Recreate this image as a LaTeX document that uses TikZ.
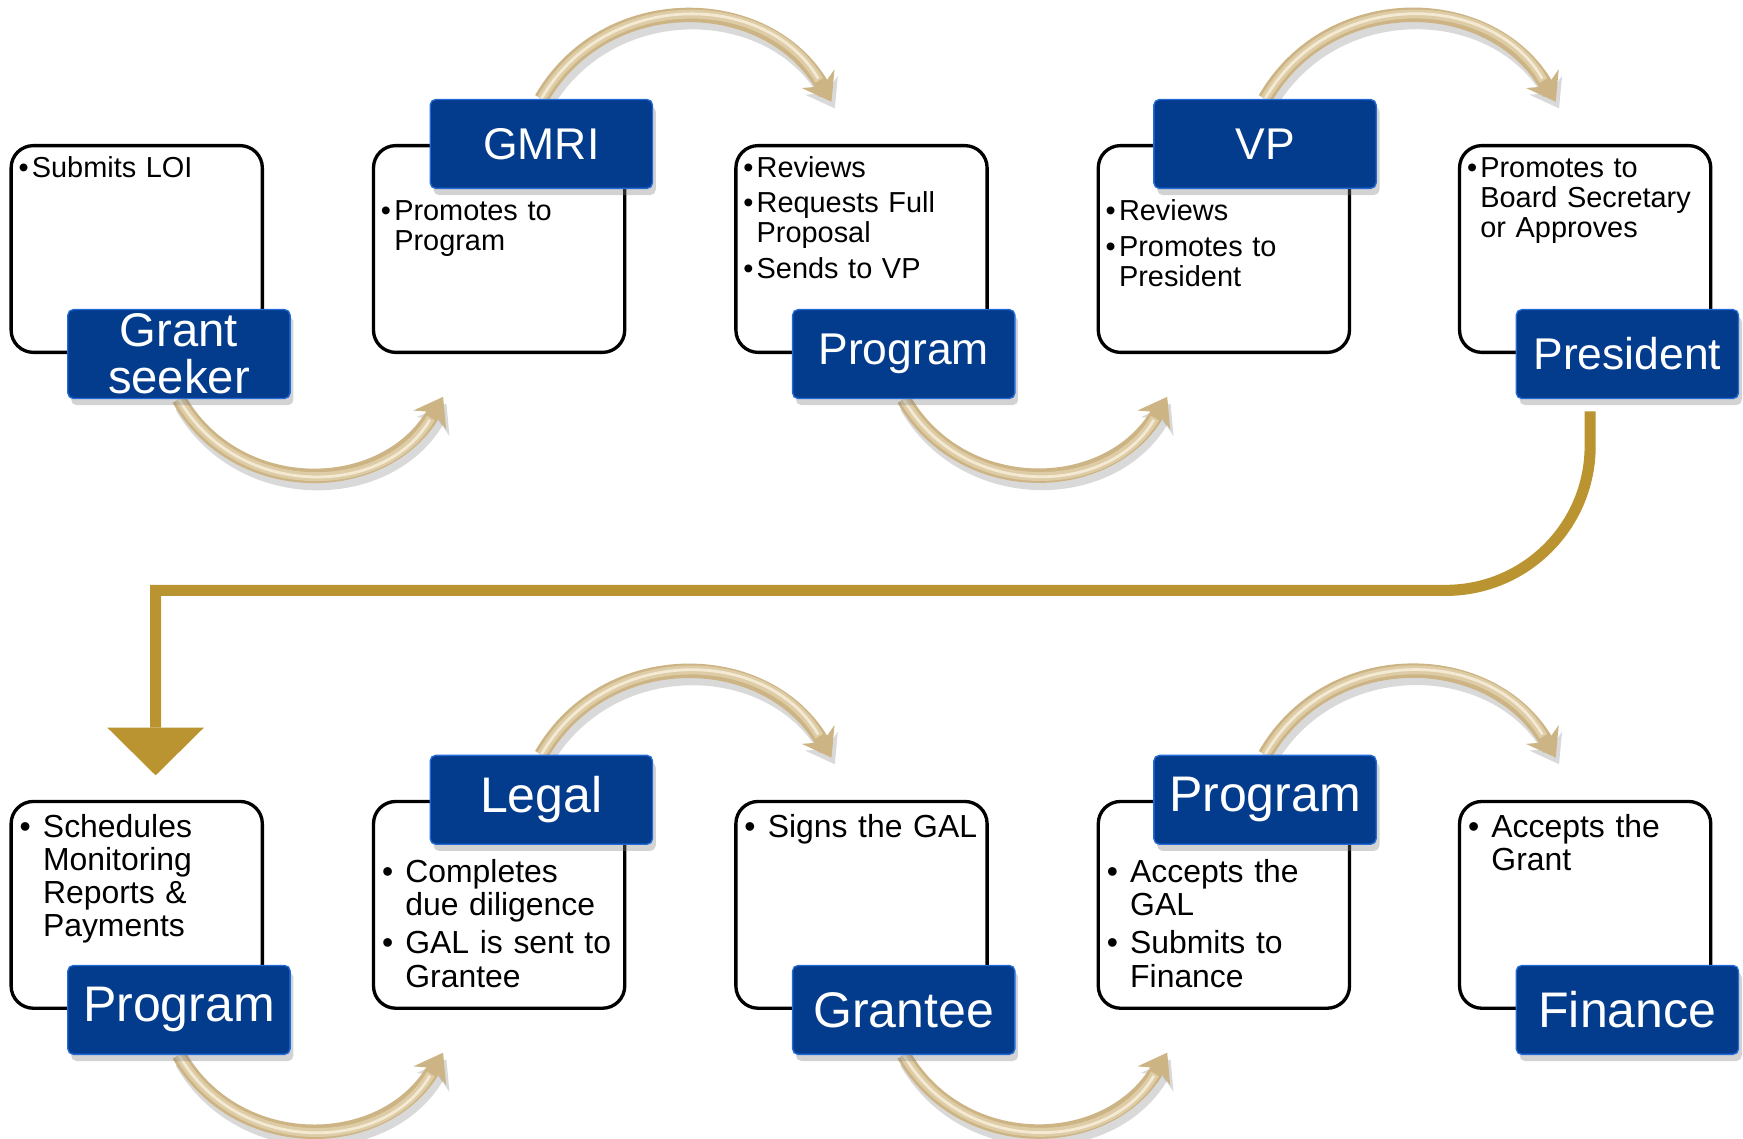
\documentclass[tikz,border=0pt]{standalone}
\usepackage{fontspec}
\setmainfont{Liberation Sans}
\usetikzlibrary{arrows.meta,shadows}
\pgfdeclarelayer{bg}
\pgfsetlayers{bg,main}
\definecolor{lblue}{RGB}{3,60,140}
\definecolor{lbluee}{RGB}{35,105,215}
\definecolor{goldc}{RGB}{185,148,48}
\definecolor{tanc}{RGB}{204,180,132}
\definecolor{tanmid}{RGB}{222,204,166}
\definecolor{tanhi}{RGB}{244,234,212}
\newcommand\tbul{\makebox[12pt][l]{•}}
\newcommand\tind{\hspace*{12pt}}
\newcommand\bbul{\makebox[21pt][l]{•}}
\newcommand\bind{\hspace*{21pt}}
\newcommand\tubearc[4]{%
  \draw[tubeshadow] (#1) to[out=#3,in=#4,looseness=1.13] (#2);
  \draw[tubebody] (#1) to[out=#3,in=#4,looseness=1.13] (#2);
  \draw[tubemid] (#1) to[out=#3,in=#4,looseness=1.13] (#2);
  \draw[tubehi] (#1) to[out=#3,in=#4,looseness=1.13] (#2);
}
\begin{document}
\begin{tikzpicture}[x=1pt,y=1pt,
  wbox/.style={draw=black, line width=3pt, rounded corners=20pt, fill=white,
    minimum width=226pt, minimum height=186pt, inner sep=0pt},
  lbl/.style={fill=lblue, draw=lbluee, line width=1.2pt, rounded corners=5pt,
    minimum width=200pt, minimum height=80pt, inner sep=0pt, text=white, align=center,
    font=\fontsize{40}{42}\selectfont,
    drop shadow={shadow xshift=3pt, shadow yshift=-6pt, opacity=0.35}},
  lblb/.style={lbl, font=\fontsize{45}{47}\selectfont},
  txt/.style={anchor=base west, inner sep=0pt, text width=215pt, align=left,
    font=\fontsize{26}{27}\selectfont},
  txtb/.style={txt, font=\fontsize{28.7}{29.8}\selectfont},
  tubeshadow/.style={draw=black, opacity=0.15, line width=14pt,
    transform canvas={shift={(3pt,-6pt)}},
    -{Stealth[length=24pt,width=34pt,inset=8pt,line width=0pt]}},
  tubebody/.style={draw=tanc, line width=13pt,
    -{Stealth[length=24pt,width=34pt,inset=8pt,line width=0pt]}},
  tubemid/.style={draw=tanmid, line width=8pt, shorten >=22pt},
  tubehi/.style={draw=tanhi, line width=2.5pt, shorten >=24pt},
  goldline/.style={draw=goldc, line width=10pt,
    -{Triangle[width=87pt,length=43pt,line width=0pt]}}
]
\useasboundingbox (0,0) rectangle (1568,-1024);

% ---- upper row boxes
\node[wbox] (b1) at (123,-224) {};
\node[wbox] (b2) at (449,-224) {};
\node[wbox] (b3) at (775,-224) {};
\node[wbox] (b4) at (1101,-224) {};
\node[wbox] (b5) at (1426,-224) {};
% ---- lower row boxes
\node[wbox] (b6) at (123,-814) {};
\node[wbox] (b7) at (449,-814) {};
\node[wbox] (b8) at (775,-814) {};
\node[wbox] (b9) at (1101,-814) {};
\node[wbox] (b10) at (1426,-814) {};

% ---- texts
\node[txt] (t1) at ([shift={(8pt,-30pt)}]b1.north west) {\tbul Submits LOI};
\node[txt] (t2) at ([shift={(8pt,-69pt)}]b2.north west) {\tbul Promotes to\\ \tind Program};
\node[txt] (t3) at ([shift={(8pt,-30pt)}]b3.north west) {\tbul Reviews\\[5pt] \tbul Requests Full\\ \tind Proposal\\[5pt] \tbul Sends to VP};
\node[txt] (t4) at ([shift={(8pt,-69pt)}]b4.north west) {\tbul Reviews\\[5pt] \tbul Promotes to\\ \tind President};
\node[txt] (t5) at ([shift={(8pt,-30pt)}]b5.north west) {\tbul Promotes to\\ \tind Board Secretary\\ \tind or Approves};

\node[txtb] (t6) at ([shift={(9pt,-34pt)}]b6.north west) {\bbul Schedules\\ \bind Monitoring\\ \bind Reports \&\\ \bind Payments};
\node[txtb] (t7) at ([shift={(9pt,-74pt)}]b7.north west) {\bbul Completes\\ \bind due diligence\\[5pt] \bbul GAL is sent to\\ \bind Grantee};
\node[txtb] (t8) at ([shift={(9pt,-34pt)}]b8.north west) {\bbul Signs the GAL};
\node[txtb] (t9) at ([shift={(9pt,-74pt)}]b9.north west) {\bbul Accepts the\\ \bind GAL\\[5pt] \bbul Submits to\\ \bind Finance};
\node[txtb] (t10) at ([shift={(9pt,-34pt)}]b10.north west) {\bbul Accepts the\\ \bind Grant};

% ---- labels
\node[lbl, font=\fontsize{42.5}{42}\selectfont] (l1) at ([xshift=38pt]b1.south) {Grant\\seeker};
\node[lbl] (l2) at ([xshift=38pt]b2.north) {GMRI};
\node[lbl] (l3) at ([xshift=38pt]b3.south) {Program};
\node[lbl] (l4) at ([xshift=37pt]b4.north) {VP};
\node[lbl] (l5) at ([xshift=38pt]b5.south) {President};
\node[lblb] (l6) at ([xshift=38pt]b6.south) {Program};
\node[lblb] (l7) at ([xshift=38pt]b7.north) {Legal};
\node[lblb] (l8) at ([xshift=38pt]b8.south) {Grantee};
\node[lblb] (l9) at ([xshift=37pt]b9.north) {Program};
\node[lblb] (l10) at ([xshift=38pt]b10.south) {Finance};

% ---- connector end points
\coordinate (e1) at (398.6,-357);
\coordinate (e2) at (748,-91.5);
\coordinate (e3) at (1050,-357);
\coordinate (e4) at (1399.5,-91.5);
\coordinate (e5) at (398.6,-947);
\coordinate (e6) at (748,-681.5);
\coordinate (e7) at (1050,-947);
\coordinate (e8) at (1399.5,-681.5);
\coordinate (gs) at ([xshift=-33.5pt,yshift=-11pt]l5.south);
\coordinate (ge) at ([xshift=17pt,yshift=22pt]b6.north);

\begin{pgfonlayer}{bg}
  \tubearc{l1.south}{e1}{-60}{240}
  \tubearc{l2.north}{e2}{60}{120}
  \tubearc{l3.south}{e3}{-60}{240}
  \tubearc{l4.north}{e4}{60}{120}
  \tubearc{l6.south}{e5}{-60}{240}
  \tubearc{l7.north}{e6}{60}{120}
  \tubearc{l8.south}{e7}{-60}{240}
  \tubearc{l9.north}{e8}{60}{120}
  \draw[goldline] (gs) -- ++(0,-31) arc[start angle=0,end angle=-90,radius=130] -| (ge);
\end{pgfonlayer}
\end{tikzpicture}
\end{document}
